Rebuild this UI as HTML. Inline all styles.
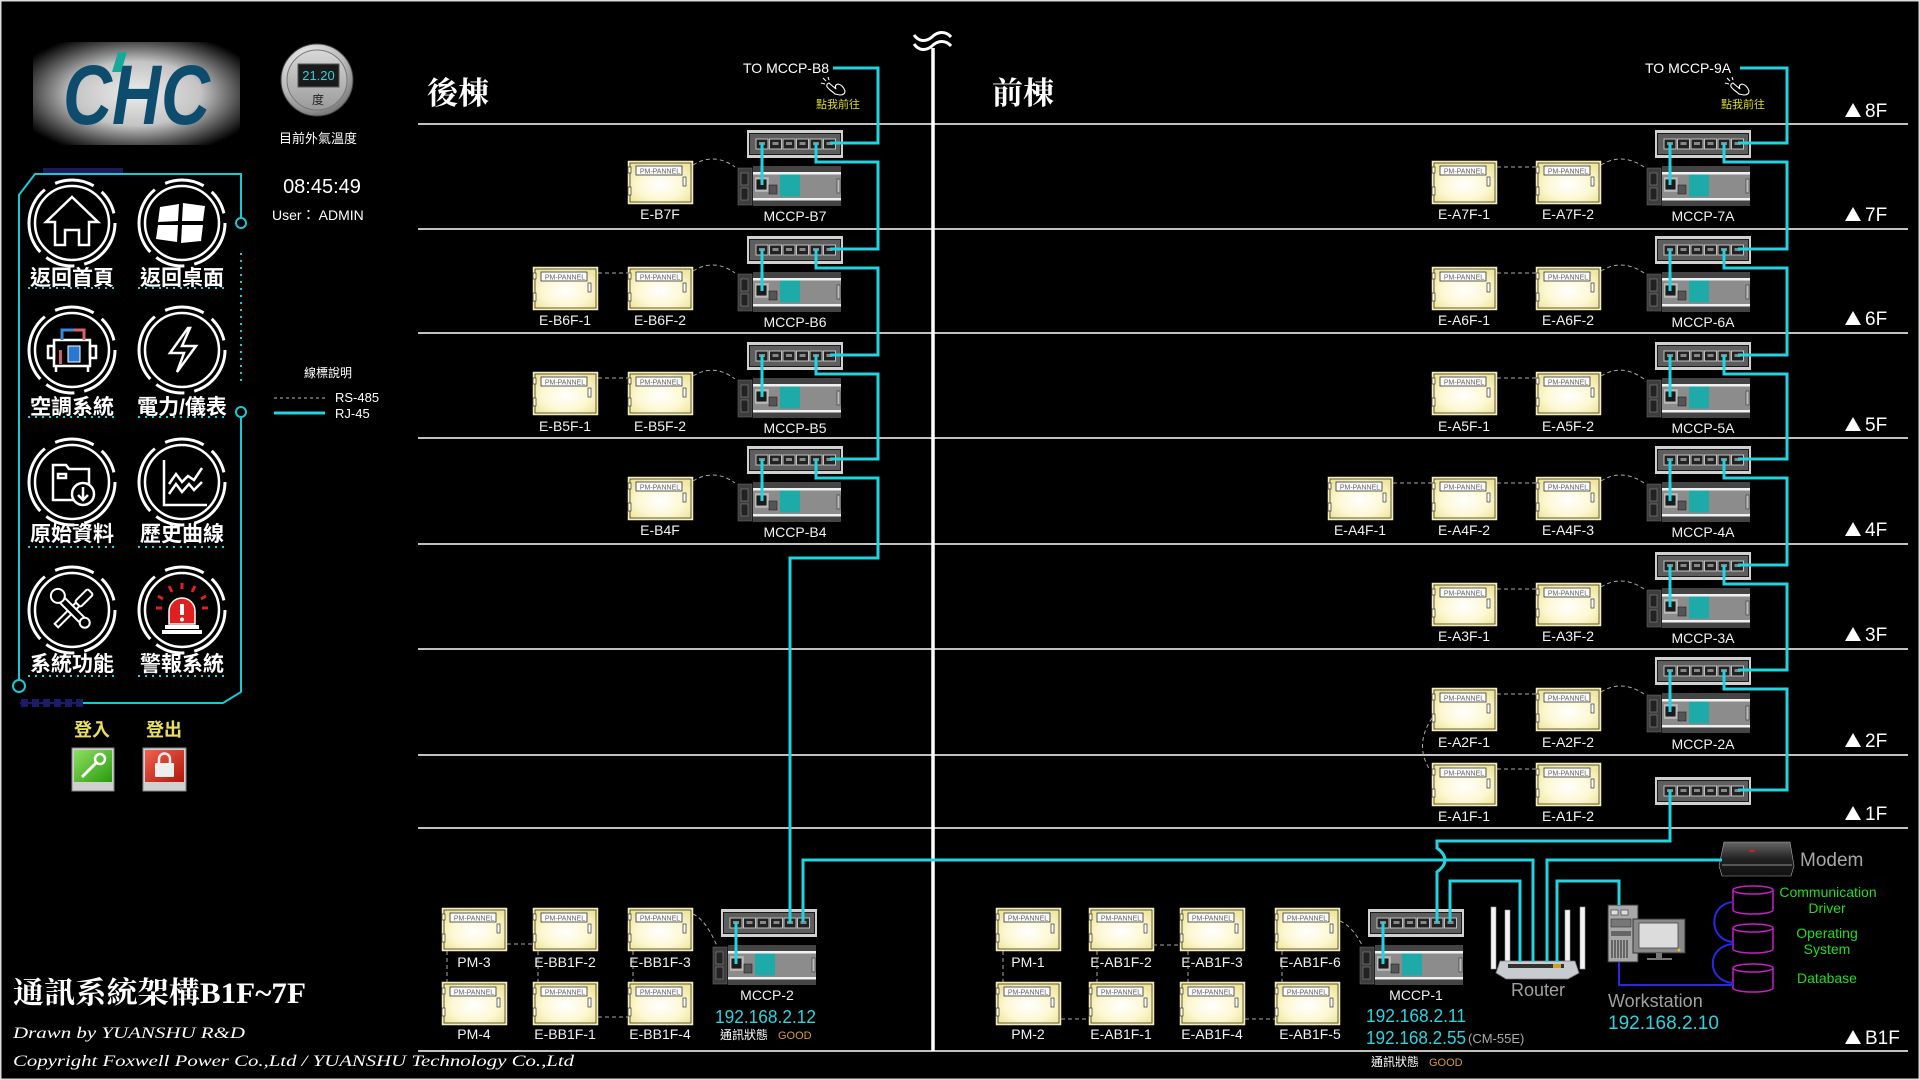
<!DOCTYPE html>
<html><head><meta charset="utf-8">
<style>
html,body{margin:0;padding:0;background:#000;width:1920px;height:1080px;overflow:hidden}
svg{display:block}
text{font-family:"Liberation Sans","Noto Sans CJK TC",sans-serif}
.l{font-size:14px;fill:#f2f2f2;text-anchor:middle}
.pp{font-size:7px;fill:#666;text-anchor:middle}
.fl{font-size:19px;fill:#fff}
.cy{fill:none;stroke:#22d4e0;stroke-width:3}
.ds{fill:none;stroke:#a8a8a8;stroke-width:1;stroke-dasharray:4 3}
.ic{font-size:21px;font-weight:bold;fill:#fff;text-anchor:middle}
.dot{fill:none;stroke:#22d4e0;stroke-width:2;stroke-dasharray:2 5}
.w{fill:none;stroke:#fff;stroke-width:2.5}
</style></head><body>
<svg width="1920" height="1080" viewBox="0 0 1920 1080" xmlns="http://www.w3.org/2000/svg">
<defs>
<radialGradient id="pg" cx="0.5" cy="0.55" r="0.6"><stop offset="0" stop-color="#ffffff"/><stop offset="0.6" stop-color="#fdf8d2"/><stop offset="1" stop-color="#efe6a0"/></radialGradient>
<radialGradient id="lg" cx="0.5" cy="0.5" r="0.62"><stop offset="0" stop-color="#ececec"/><stop offset="0.5" stop-color="#c4c4c4"/><stop offset="0.82" stop-color="#454545"/><stop offset="1" stop-color="#000"/></radialGradient>
<radialGradient id="gaug" cx="0.4" cy="0.3" r="0.8"><stop offset="0" stop-color="#ffffff"/><stop offset="0.6" stop-color="#b8b8b8"/><stop offset="1" stop-color="#606060"/></radialGradient>
<linearGradient id="gin" x1="0" y1="0" x2="0" y2="1"><stop offset="0" stop-color="#d8d8d8"/><stop offset="1" stop-color="#9a9a9a"/></linearGradient>
<linearGradient id="gg" x1="0" y1="0" x2="1" y2="1"><stop offset="0" stop-color="#8ee060"/><stop offset="1" stop-color="#2a9a10"/></linearGradient>
<linearGradient id="rg" x1="0" y1="0" x2="1" y2="1"><stop offset="0" stop-color="#f06050"/><stop offset="1" stop-color="#b01808"/></linearGradient>
<linearGradient id="mg" x1="0" y1="0" x2="0" y2="1"><stop offset="0" stop-color="#666"/><stop offset="0.5" stop-color="#222"/><stop offset="1" stop-color="#111"/></linearGradient>
<g id="pan">
 <rect x="0.5" y="0.5" width="64" height="42" fill="url(#pg)" stroke="#f5eeb8" stroke-width="1.5"/>
 <rect x="2" y="2" width="61" height="39" fill="none" stroke="#3a3820" stroke-width="0.8"/>
 <rect x="8" y="5" width="46" height="9" fill="#fafafa" stroke="#333" stroke-width="0.8"/>
 <rect x="0" y="6" width="3" height="6" fill="#fff8d0" stroke="#333" stroke-width="0.7"/>
 <rect x="0" y="26" width="3" height="8" fill="#fff8d0" stroke="#333" stroke-width="0.7"/>
 <rect x="55" y="16" width="3" height="9" fill="#fff" stroke="#333" stroke-width="0.7"/>
</g>
<g id="port"><rect x="9" y="9" width="12" height="10" fill="#222" stroke="#c0c0c0" stroke-width="1"/><rect x="12" y="12" width="6" height="3" fill="#888"/></g>
<g id="sw">
 <rect x="0" y="0" width="96" height="28" fill="#d0d0d0"/>
 <rect x="2.5" y="3.5" width="91" height="21" fill="#5e5e5e" stroke="#1a1a1a" stroke-width="1"/>
 <use href="#port"/><use href="#port" x="13.5"/><use href="#port" x="27"/><use href="#port" x="40.5"/><use href="#port" x="54"/><use href="#port" x="67.5"/>
</g>
<g id="plc">
 <rect x="0" y="2" width="14" height="37" fill="#3d3d3d" stroke="#666" stroke-width="0.6"/>
 <rect x="3" y="7" width="7" height="12" fill="#222" stroke="#888" stroke-width="0.6"/>
 <rect x="3" y="22" width="7" height="12" fill="#222" stroke="#888" stroke-width="0.6"/>
 <rect x="15" y="0" width="88" height="40" fill="#8c8c8c"/>
 <rect x="15" y="0" width="88" height="6" fill="#444"/>
 <rect x="15" y="6" width="88" height="2.5" fill="#f0f0f0"/>
 <rect x="15" y="32" width="88" height="2.5" fill="#f0f0f0"/>
 <rect x="15" y="34.5" width="88" height="5.5" fill="#444"/>
 <rect x="17" y="11" width="14" height="15" fill="#b0b0b0"/>
 <rect x="18" y="13" width="11" height="11" fill="#1a1a1a" stroke="#ccc" stroke-width="0.8"/>
 <rect x="31" y="19" width="8" height="9" fill="#555" stroke="#222" stroke-width="0.6"/>
 <rect x="42" y="8.5" width="20" height="22" fill="#1eaaa8"/>
 <rect x="99" y="13" width="3" height="14" fill="#bbb" stroke="#333" stroke-width="0.6"/>
</g>
<g id="ring">
 <circle r="37" fill="none" stroke="#fff" stroke-width="2.5"/>
 <circle r="43" fill="none" stroke="#fff" stroke-width="3" stroke-dasharray="55 10 30 8 70 12 40 10 25 10"/>
</g>
<g id="hand" fill="none" stroke="#fff" stroke-width="1.1">
 <path d="M2,1 L5,4 M0,6 L4,7 M7,0 L8,3"/>
 <path d="M8,6 L15,12 Q13,8 17,7 Q22,8 24,14 Q24,18 19,18 L14,17 Q12,15 9,13 L6,10 Q5,7 8,6 Z"/>
</g>
</defs>

<rect x="0" y="0" width="1920" height="1080" fill="#000"/>
<rect x="0.75" y="0.75" width="1918.5" height="1078.5" fill="none" stroke="#dcdcdc" stroke-width="1.5"/>

<!-- Logo -->
<rect x="33" y="42" width="207" height="103" fill="url(#lg)"/>
<text x="63" y="124" font-size="84" font-weight="bold" font-style="italic" fill="#0e4c6e" textLength="147" lengthAdjust="spacingAndGlyphs">CHC</text>
<polygon points="118,52 127,52 121,72 112,72" fill="#18a89a"/>

<!-- Gauge -->
<circle cx="317" cy="80" r="36" fill="url(#gaug)" stroke="#444" stroke-width="1"/>
<circle cx="317" cy="80" r="30" fill="url(#gin)" stroke="#777" stroke-width="1"/>
<rect x="298" y="64" width="41" height="23" fill="#1a1a1a" stroke="#555"/>
<text x="318.5" y="80" font-size="13" fill="#30d0d8" text-anchor="middle">21.20</text>
<text x="318" y="104" font-size="12" fill="#222" text-anchor="middle">度</text>
<text x="318" y="143" font-size="13" fill="#fff" text-anchor="middle">目前外氣溫度</text>
<text x="322" y="193" font-size="20" fill="#fff" text-anchor="middle">08:45:49</text>
<text x="272" y="220" font-size="14" fill="#fff">User：  ADMIN</text>

<!-- Legend -->
<text x="328" y="377" font-size="12" fill="#fff" text-anchor="middle">線標說明</text>
<path d="M274,398 H325" stroke="#bbb" stroke-width="1" stroke-dasharray="3 3"/>
<text x="335" y="402" font-size="13" fill="#fff">RS-485</text>
<path d="M274,413 H325" stroke="#22d4e0" stroke-width="3"/>
<text x="335" y="418" font-size="13" fill="#fff">RJ-45</text>

<!-- Left panel frame -->
<rect x="43" y="168" width="80" height="5" fill="#1c1a5a"/>
<path d="M19,680 V195 L35,174 H241 V218" fill="none" stroke="#18c8d4" stroke-width="2"/>
<circle cx="241" cy="223" r="5" fill="none" stroke="#18c8d4" stroke-width="2"/>
<path d="M241,253 V384" fill="none" stroke="#18c8d4" stroke-width="2" stroke-dasharray="2 5"/>
<circle cx="241" cy="412" r="5" fill="none" stroke="#18c8d4" stroke-width="2"/>
<path d="M241,417 V692 L223,703 H83" fill="none" stroke="#18c8d4" stroke-width="2"/>
<circle cx="19" cy="686" r="6" fill="none" stroke="#18c8d4" stroke-width="2"/>
<g fill="#1c1a6a"><rect x="20" y="702" width="63" height="2"/><rect x="21" y="699" width="7" height="8"/><rect x="32" y="699" width="7" height="8"/><rect x="43" y="699" width="7" height="8"/><rect x="54" y="699" width="7" height="8"/><rect x="65" y="699" width="7" height="8"/><rect x="76" y="699" width="7" height="8"/></g>

<!-- Icons -->
<use href="#ring" x="72" y="223"/><use href="#ring" x="182" y="223"/>
<use href="#ring" x="72" y="350"/><use href="#ring" x="182" y="350"/>
<use href="#ring" x="72" y="482"/><use href="#ring" x="182" y="482"/>
<use href="#ring" x="72" y="610"/><use href="#ring" x="182" y="610"/>
<g transform="translate(72,223)"><path class="w" stroke-width="3" d="M-26,-1 L0,-26 L26,-1 H17 V22 H7 V7 H-7 V22 H-17 V-1 Z"/></g>
<g transform="translate(182,223)" fill="#fff"><polygon points="-22,-16 -3,-19 -4,-2 -24,-1"/><polygon points="1,-20 23,-17 21,-2 0,-2"/><polygon points="-24,2 -4,2 -5,19 -26,16"/><polygon points="0,2 21,2 19,18 -1,20"/></g>
<g transform="translate(72,350)">
 <rect x="-18" y="-10" width="36" height="26" class="w" stroke-width="2"/>
 <rect x="-24" y="-4" width="6" height="12" class="w" stroke-width="2"/><rect x="18" y="-4" width="6" height="12" class="w" stroke-width="2"/>
 <path d="M-10,-10 V-20 H2" fill="none" stroke="#3a8ad8" stroke-width="3"/><path d="M2,-20 H12 V-10" fill="none" stroke="#e06070" stroke-width="3"/>
 <rect x="-4" y="-4" width="12" height="16" fill="#2a78d0" stroke="#fff" stroke-width="1"/>
 <rect x="-13" y="0" width="3" height="14" fill="#c86070"/>
 <path d="M-16,16 V22 M16,16 V22" class="w" stroke-width="2"/>
</g>
<g transform="translate(182,350)"><path class="w" d="M6,-22 L-12,3 H2 L-5,22 L14,-4 H0 L8,-22 Z"/></g>
<g transform="translate(72,482)">
 <path class="w" d="M-19,-17 H-6 L-3,-13 H17 V18 H-19 Z"/>
 <rect x="-14" y="-8" width="8" height="4" class="w" stroke-width="2"/>
 <circle cx="11" cy="12" r="11" fill="#000" stroke="#fff" stroke-width="2.5"/>
 <path class="w" stroke-width="2" d="M11,5 V18 M6,13 L11,18 L16,13"/>
</g>
<g transform="translate(182,482)">
 <path class="w" d="M-18,-22 V23 H25"/>
 <polyline class="w" stroke-width="2" points="-13,2 -6,-8 0,0 6,-6 12,-2 20,-14"/>
 <polyline class="w" stroke-width="2" points="-13,12 -6,2 0,10 7,2 12,8 20,0"/>
</g>
<g transform="translate(72,610)">
 <g transform="rotate(45)"><rect x="-4" y="-26" width="8" height="18" rx="2" fill="#000" stroke="#fff" stroke-width="2"/><rect x="-2.5" y="-8" width="5" height="30" fill="#000" stroke="#fff" stroke-width="2"/></g>
 <g transform="rotate(-45)"><rect x="-3.5" y="-16" width="7" height="34" fill="#000" stroke="#fff" stroke-width="2"/><circle cx="0" cy="-20" r="7" fill="#000" stroke="#fff" stroke-width="2"/><circle cx="0" cy="18" r="5" fill="#000" stroke="#fff" stroke-width="2"/></g>
</g>
<g transform="translate(182,610)">
 <path d="M0,-27 V-21 M-13,-24 L-10,-18 M13,-24 L10,-18 M-24,-14 L-19,-11 M24,-14 L19,-11 M-26,-2 H-20 M26,-2 H20" stroke="#e02020" stroke-width="3"/>
 <path d="M-13,14 V1 A13,13 0 0 1 13,1 V14 Z" fill="#e02020" stroke="#fff" stroke-width="1.5"/>
 <rect x="-2" y="-6" width="4" height="11" fill="#fff"/><circle cx="0" cy="9.5" r="2" fill="#fff"/>
 <rect x="-17" y="15" width="34" height="4" fill="#fff"/><rect x="-20" y="20" width="40" height="4" fill="#fff"/>
</g>
<text class="ic" x="72" y="285">返回首頁</text><text class="ic" x="182" y="285">返回桌面</text>
<text class="ic" x="72" y="414">空調系統</text><text class="ic" x="182" y="414">電力/儀表</text>
<text class="ic" x="72" y="541">原始資料</text><text class="ic" x="182" y="541">歷史曲線</text>
<text class="ic" x="72" y="671">系統功能</text><text class="ic" x="182" y="671">警報系統</text>
<path class="dot" d="M28,288 H118 M138,288 H228 M28,417 H118 M138,417 H228 M28,547 H118 M138,547 H228 M28,676 H118 M138,676 H228"/>

<!-- Login -->
<text x="92" y="736" font-size="18" font-weight="bold" fill="#e8e060" text-anchor="middle">登入</text>
<text x="164" y="736" font-size="18" font-weight="bold" fill="#e8e060" text-anchor="middle">登出</text>
<rect x="72" y="748" width="42" height="43" fill="#d0d0d0" stroke="#888"/>
<rect x="74" y="750" width="38" height="32" fill="url(#gg)"/>
<circle cx="100" cy="759" r="5" fill="none" stroke="#fff" stroke-width="2.5"/>
<path d="M96,763 L82,777" stroke="#fff" stroke-width="3"/>
<rect x="143" y="748" width="43" height="43" fill="#d0d0d0" stroke="#888"/>
<rect x="145" y="750" width="39" height="32" fill="url(#rg)"/>
<path d="M159,764 V759 a5.5,5.5 0 0 1 11,0 V764" fill="none" stroke="#eee" stroke-width="2.5"/>
<rect x="155" y="763" width="19" height="14" rx="1" fill="#eee"/>

<!-- Title -->
<text x="13" y="1003" font-size="30" font-weight="bold" fill="#fff" textLength="293" lengthAdjust="spacingAndGlyphs" style="font-family:'Liberation Serif','Noto Serif CJK SC',serif">通訊系統架構B1F~7F</text>
<text x="13" y="1038" font-size="16" font-style="italic" fill="#fff" textLength="232" lengthAdjust="spacingAndGlyphs" style="font-family:'Liberation Serif',serif">Drawn by  YUANSHU R&amp;D</text>
<text x="13" y="1066" font-size="16" font-style="italic" fill="#fff" textLength="561" lengthAdjust="spacingAndGlyphs" style="font-family:'Liberation Serif',serif">Copyright Foxwell Power Co.,Ltd / YUANSHU  Technology Co.,Ltd</text>

<!-- Floor lines -->
<path d="M418,124 H1908 M418,229 H1908 M418,333 H1908 M418,438 H1908 M418,544 H1908 M418,649 H1908 M418,755 H1908 M418,828 H1908 M418,1051 H1908" stroke="#fff" stroke-width="1.5"/>
<path d="M933,48 V1051" stroke="#fff" stroke-width="3.5"/>
<path d="M914,35 C919,42 926,42 932,37 C938,31 946,31 951,37 M914,44 C919,51 926,51 932,46 C938,40 946,40 951,46" fill="none" stroke="#fff" stroke-width="3"/>

<text x="427" y="104" font-size="31" font-weight="bold" fill="#fff" style="font-family:'Liberation Serif','Noto Serif CJK SC',serif">後棟</text>
<text x="992" y="104" font-size="31" font-weight="bold" fill="#fff" style="font-family:'Liberation Serif','Noto Serif CJK SC',serif">前棟</text>

<!-- Floor labels -->
<g fill="#fff">
<polygon points="1845,117 1853,103 1861,117"/><text class="fl" x="1865" y="117">8F</text>
<polygon points="1845,221 1853,207 1861,221"/><text class="fl" x="1865" y="221">7F</text>
<polygon points="1845,325 1853,311 1861,325"/><text class="fl" x="1865" y="325">6F</text>
<polygon points="1845,431 1853,417 1861,431"/><text class="fl" x="1865" y="431">5F</text>
<polygon points="1845,536 1853,522 1861,536"/><text class="fl" x="1865" y="536">4F</text>
<polygon points="1845,641 1853,627 1861,641"/><text class="fl" x="1865" y="641">3F</text>
<polygon points="1845,747 1853,733 1861,747"/><text class="fl" x="1865" y="747">2F</text>
<polygon points="1845,820 1853,806 1861,820"/><text class="fl" x="1865" y="820">1F</text>
<polygon points="1845,1044 1853,1030 1861,1044"/><text class="fl" x="1865" y="1044">B1F</text>
</g>

<!-- TO labels -->
<text x="743" y="73" font-size="14" fill="#fff">TO  MCCP-B8</text>
<use href="#hand" x="821" y="77"/>
<text x="816" y="108" font-size="11" fill="#dede30">點我前往</text>
<text x="1645" y="73" font-size="14" fill="#fff">TO  MCCP-9A</text>
<use href="#hand" x="1725" y="77"/>
<text x="1721" y="108" font-size="11" fill="#dede30">點我前往</text>

<!-- Back building devices -->
<use href="#sw" x="747" y="130"/><use href="#plc" x="738" y="166"/>
<use href="#sw" x="747" y="236"/><use href="#plc" x="738" y="272"/>
<use href="#sw" x="747" y="342"/><use href="#plc" x="738" y="378"/>
<use href="#sw" x="747" y="446"/><use href="#plc" x="738" y="482"/>
<text class="l" x="795" y="221">MCCP-B7</text>
<text class="l" x="795" y="327">MCCP-B6</text>
<text class="l" x="795" y="433">MCCP-B5</text>
<text class="l" x="795" y="537">MCCP-B4</text>

<use href="#pan" x="628" y="161"/><text class="pp" x="660" y="173.5">PM-PANNEL</text><text class="l" x="660" y="219">E-B7F</text>
<use href="#pan" x="533" y="267"/><text class="pp" x="565" y="279.5">PM-PANNEL</text><text class="l" x="565" y="325">E-B6F-1</text>
<use href="#pan" x="628" y="267"/><text class="pp" x="660" y="279.5">PM-PANNEL</text><text class="l" x="660" y="325">E-B6F-2</text>
<use href="#pan" x="533" y="372"/><text class="pp" x="565" y="384.5">PM-PANNEL</text><text class="l" x="565" y="431">E-B5F-1</text>
<use href="#pan" x="628" y="372"/><text class="pp" x="660" y="384.5">PM-PANNEL</text><text class="l" x="660" y="431">E-B5F-2</text>
<use href="#pan" x="628" y="477"/><text class="pp" x="660" y="489.5">PM-PANNEL</text><text class="l" x="660" y="535">E-B4F</text>

<!-- Front building devices -->
<use href="#sw" x="1655" y="130"/><use href="#plc" x="1647" y="166"/>
<use href="#sw" x="1655" y="236"/><use href="#plc" x="1647" y="272"/>
<use href="#sw" x="1655" y="342"/><use href="#plc" x="1647" y="378"/>
<use href="#sw" x="1655" y="446"/><use href="#plc" x="1647" y="482"/>
<use href="#sw" x="1655" y="552"/><use href="#plc" x="1647" y="588"/>
<use href="#sw" x="1655" y="657"/><use href="#plc" x="1647" y="693"/>
<use href="#sw" x="1655" y="777"/>
<text class="l" x="1703" y="221">MCCP-7A</text>
<text class="l" x="1703" y="327">MCCP-6A</text>
<text class="l" x="1703" y="433">MCCP-5A</text>
<text class="l" x="1703" y="537">MCCP-4A</text>
<text class="l" x="1703" y="643">MCCP-3A</text>
<text class="l" x="1703" y="749">MCCP-2A</text>

<use href="#pan" x="1432" y="161"/><text class="pp" x="1464" y="173.5">PM-PANNEL</text><text class="l" x="1464" y="219">E-A7F-1</text>
<use href="#pan" x="1536" y="161"/><text class="pp" x="1568" y="173.5">PM-PANNEL</text><text class="l" x="1568" y="219">E-A7F-2</text>
<use href="#pan" x="1432" y="267"/><text class="pp" x="1464" y="279.5">PM-PANNEL</text><text class="l" x="1464" y="325">E-A6F-1</text>
<use href="#pan" x="1536" y="267"/><text class="pp" x="1568" y="279.5">PM-PANNEL</text><text class="l" x="1568" y="325">E-A6F-2</text>
<use href="#pan" x="1432" y="372"/><text class="pp" x="1464" y="384.5">PM-PANNEL</text><text class="l" x="1464" y="431">E-A5F-1</text>
<use href="#pan" x="1536" y="372"/><text class="pp" x="1568" y="384.5">PM-PANNEL</text><text class="l" x="1568" y="431">E-A5F-2</text>
<use href="#pan" x="1328" y="477"/><text class="pp" x="1360" y="489.5">PM-PANNEL</text><text class="l" x="1360" y="535">E-A4F-1</text>
<use href="#pan" x="1432" y="477"/><text class="pp" x="1464" y="489.5">PM-PANNEL</text><text class="l" x="1464" y="535">E-A4F-2</text>
<use href="#pan" x="1536" y="477"/><text class="pp" x="1568" y="489.5">PM-PANNEL</text><text class="l" x="1568" y="535">E-A4F-3</text>
<use href="#pan" x="1432" y="583"/><text class="pp" x="1464" y="595.5">PM-PANNEL</text><text class="l" x="1464" y="641">E-A3F-1</text>
<use href="#pan" x="1536" y="583"/><text class="pp" x="1568" y="595.5">PM-PANNEL</text><text class="l" x="1568" y="641">E-A3F-2</text>
<use href="#pan" x="1432" y="688"/><text class="pp" x="1464" y="700.5">PM-PANNEL</text><text class="l" x="1464" y="747">E-A2F-1</text>
<use href="#pan" x="1536" y="688"/><text class="pp" x="1568" y="700.5">PM-PANNEL</text><text class="l" x="1568" y="747">E-A2F-2</text>
<use href="#pan" x="1432" y="763"/><text class="pp" x="1464" y="775.5">PM-PANNEL</text><text class="l" x="1464" y="821">E-A1F-1</text>
<use href="#pan" x="1536" y="763"/><text class="pp" x="1568" y="775.5">PM-PANNEL</text><text class="l" x="1568" y="821">E-A1F-2</text>

<!-- B1F back -->
<use href="#sw" x="721" y="909"/><use href="#plc" x="713" y="945"/>
<use href="#pan" x="442" y="908"/><text class="pp" x="474" y="920.5">PM-PANNEL</text><text class="l" x="474" y="967">PM-3</text>
<use href="#pan" x="533" y="908"/><text class="pp" x="565" y="920.5">PM-PANNEL</text><text class="l" x="565" y="967">E-BB1F-2</text>
<use href="#pan" x="628" y="908"/><text class="pp" x="660" y="920.5">PM-PANNEL</text><text class="l" x="660" y="967">E-BB1F-3</text>
<use href="#pan" x="442" y="982"/><text class="pp" x="474" y="994.5">PM-PANNEL</text><text class="l" x="474" y="1039">PM-4</text>
<use href="#pan" x="533" y="982"/><text class="pp" x="565" y="994.5">PM-PANNEL</text><text class="l" x="565" y="1039">E-BB1F-1</text>
<use href="#pan" x="628" y="982"/><text class="pp" x="660" y="994.5">PM-PANNEL</text><text class="l" x="660" y="1039">E-BB1F-4</text>
<text class="l" x="767" y="1000">MCCP-2</text>
<text x="715" y="1023" font-size="18" fill="#2ad4e0" textLength="101" lengthAdjust="spacingAndGlyphs">192.168.2.12</text>
<text x="720" y="1039" font-size="12" fill="#fff">通訊狀態</text>
<text x="778" y="1039" font-size="11" fill="#d89a40">GOOD</text>

<!-- B1F front -->
<use href="#sw" x="1368" y="909"/><use href="#plc" x="1360" y="945"/>
<use href="#pan" x="996" y="908"/><text class="pp" x="1028" y="920.5">PM-PANNEL</text><text class="l" x="1028" y="967">PM-1</text>
<use href="#pan" x="1089" y="908"/><text class="pp" x="1121" y="920.5">PM-PANNEL</text><text class="l" x="1121" y="967">E-AB1F-2</text>
<use href="#pan" x="1180" y="908"/><text class="pp" x="1212" y="920.5">PM-PANNEL</text><text class="l" x="1212" y="967">E-AB1F-3</text>
<use href="#pan" x="1275" y="908"/><text class="pp" x="1307" y="920.5">PM-PANNEL</text><text class="l" x="1310" y="967">E-AB1F-6</text>
<use href="#pan" x="996" y="982"/><text class="pp" x="1028" y="994.5">PM-PANNEL</text><text class="l" x="1028" y="1039">PM-2</text>
<use href="#pan" x="1089" y="982"/><text class="pp" x="1121" y="994.5">PM-PANNEL</text><text class="l" x="1121" y="1039">E-AB1F-1</text>
<use href="#pan" x="1180" y="982"/><text class="pp" x="1212" y="994.5">PM-PANNEL</text><text class="l" x="1212" y="1039">E-AB1F-4</text>
<use href="#pan" x="1275" y="982"/><text class="pp" x="1307" y="994.5">PM-PANNEL</text><text class="l" x="1310" y="1039">E-AB1F-5</text>
<text class="l" x="1416" y="1000">MCCP-1</text>
<text x="1366" y="1022" font-size="18" fill="#2ad4e0" textLength="100" lengthAdjust="spacingAndGlyphs">192.168.2.11</text>
<text x="1366" y="1044" font-size="18" fill="#2ad4e0" textLength="100" lengthAdjust="spacingAndGlyphs">192.168.2.55</text>
<text x="1468" y="1043" font-size="13" fill="#aaa">(CM-55E)</text>
<text x="1371" y="1066" font-size="12" fill="#fff">通訊狀態</text>
<text x="1429" y="1066" font-size="11" fill="#d89a40">GOOD</text>

<!-- Dashed RS-485 -->
<path class="ds" d="M598,273 H628 M598,378 H628
M693,165 Q714,152 735,167 M693,271 Q714,258 735,273 M693,376 Q714,363 735,379 M693,481 Q714,468 735,483
M1497,167 H1536 M1497,273 H1536 M1497,378 H1536 M1393,483 H1432 M1497,483 H1536 M1497,589 H1536 M1497,694 H1536 M1497,769 H1536
M1601,165 Q1622,152 1644,167 M1601,271 Q1622,258 1644,273 M1601,376 Q1622,363 1644,379 M1601,481 Q1622,468 1644,483 M1601,587 Q1622,574 1644,589 M1601,692 Q1622,679 1644,694
M1432,718 Q1414,745 1430,770
M447,951 V982 M507,944 H533 M538,951 V982 M598,1017 H628 M633,951 V982 M693,914 Q706,920 717,946
M1003,951 V982 M1061,1019 H1089 M1097,951 V982 M1153,945 H1180 M1188,951 V982 M1245,1019 H1275 M1282,951 V982 M1340,921 Q1352,926 1362,945"/>

<!-- Router -->
<g>
 <rect x="1491" y="907" width="5" height="62" fill="#f4f4f4" stroke="#999" stroke-width="0.6"/>
 <rect x="1505" y="910" width="5" height="56" fill="#f4f4f4" stroke="#999" stroke-width="0.6"/>
 <rect x="1565" y="910" width="5" height="56" fill="#f4f4f4" stroke="#999" stroke-width="0.6"/>
 <rect x="1580" y="907" width="5" height="62" fill="#f4f4f4" stroke="#999" stroke-width="0.6"/>
 <polygon points="1500,961 1575,961 1579,973 1568,979 1506,979 1496,973" fill="#c8ccd0" stroke="#777" stroke-width="0.8"/>
 <rect x="1508" y="964" width="56" height="4" fill="#333"/>
 <rect x="1553" y="964" width="8" height="4" fill="#d0a020"/>
</g>
<text x="1538" y="996" font-size="18" fill="#a0a0a0" text-anchor="middle">Router</text>

<!-- Workstation -->
<rect x="1608" y="905" width="30" height="57" fill="#a8a8a8" stroke="#333"/>
<rect x="1611" y="910" width="7" height="5" fill="#ddd" stroke="#333" stroke-width="0.6"/><rect x="1621" y="910" width="7" height="5" fill="#ddd" stroke="#333" stroke-width="0.6"/>
<rect x="1611" y="919" width="20" height="8" fill="#777" stroke="#333" stroke-width="0.6"/>
<rect x="1611" y="931" width="20" height="5" fill="#666"/>
<path d="M1612,940 V958 M1615,940 V958 M1618,940 V958 M1621,940 V958 M1624,940 V958 M1627,940 V958" stroke="#222" stroke-width="1"/>
<rect x="1633" y="919" width="52" height="34" fill="#8a8a8a" stroke="#333"/>
<rect x="1639" y="923" width="39" height="25" fill="#dcdcdc" stroke="#444" stroke-width="0.8"/>
<circle cx="1679" cy="950" r="1.5" fill="#e0c020"/>
<rect x="1656" y="953" width="6" height="5" fill="#777"/><rect x="1647" y="958" width="25" height="2" fill="#777"/>
<text x="1608" y="1007" font-size="18" fill="#a0a0a0">Workstation</text>
<text x="1608" y="1029" font-size="19" fill="#2ad4e0">192.168.2.10</text>

<!-- Modem -->
<polygon points="1724,842 1790,842 1794,866 1791,876 1722,876 1719,866" fill="url(#mg)" stroke="#aaa" stroke-width="0.6"/>
<rect x="1722" y="864" width="70" height="2" fill="#555"/>
<rect x="1749" y="850" width="6" height="2" fill="#d02020"/>
<text x="1800" y="866" font-size="19" fill="#a8a8a8">Modem</text>

<!-- Database cylinders -->
<g fill="none" stroke="#c81ec8" stroke-width="1.5">
 <path d="M1733,890 V910 A20,4 0 0 0 1773,910 V890"/><ellipse cx="1753" cy="890" rx="20" ry="4"/>
 <path d="M1733,928 V949 A20,4 0 0 0 1773,949 V928"/><ellipse cx="1753" cy="928" rx="20" ry="4"/>
 <path d="M1733,968 V988 A20,4 0 0 0 1773,988 V968"/><ellipse cx="1753" cy="968" rx="20" ry="4"/>
</g>
<path d="M1733,902 C1708,904 1708,940 1733,942 M1733,944 C1706,946 1706,981 1733,983 M1619,962 V985 H1733" fill="none" stroke="#2828e8" stroke-width="2"/>
<g font-size="14" fill="#22dd22" text-anchor="middle">
<text x="1828" y="897">Communication</text><text x="1827" y="913">Driver</text>
<text x="1827" y="938">Operating</text><text x="1827" y="954">System</text>
<text x="1827" y="983">Database</text>
</g>

<!-- RJ-45 cyan lines -->
<path class="cy" d="M833,68 H878 V143 H830
M816,143 V162 H878 V249 H830
M816,249 V268 H878 V355 H830
M816,355 V374 H878 V459 H830
M816,459 V478 H878 V558 H790 V923
M762,143 V185 M762,249 V291 M762,355 V397 M762,459 V501
M1740,68 H1787 V143 H1738
M1724,143 V162 H1787 V249 H1738
M1724,249 V268 H1787 V355 H1738
M1724,355 V374 H1787 V459 H1738
M1724,459 V478 H1787 V565 H1738
M1724,565 V584 H1787 V670 H1738
M1724,670 V689 H1787 V790 H1738
M1670,143 V185 M1670,249 V291 M1670,355 V397 M1670,459 V501 M1670,565 V607 M1670,670 V712
M1670,790 V841 H1437 V848 Q1453,860 1437,872 V923
M736,922 V964 M1383,922 V964
M803,922 V860 H1533 V962
M1450,922 V881 H1520 V962
M1547,962 V860 H1722
M1557,962 V881 H1619 V905"/>
</svg>
</body></html>
